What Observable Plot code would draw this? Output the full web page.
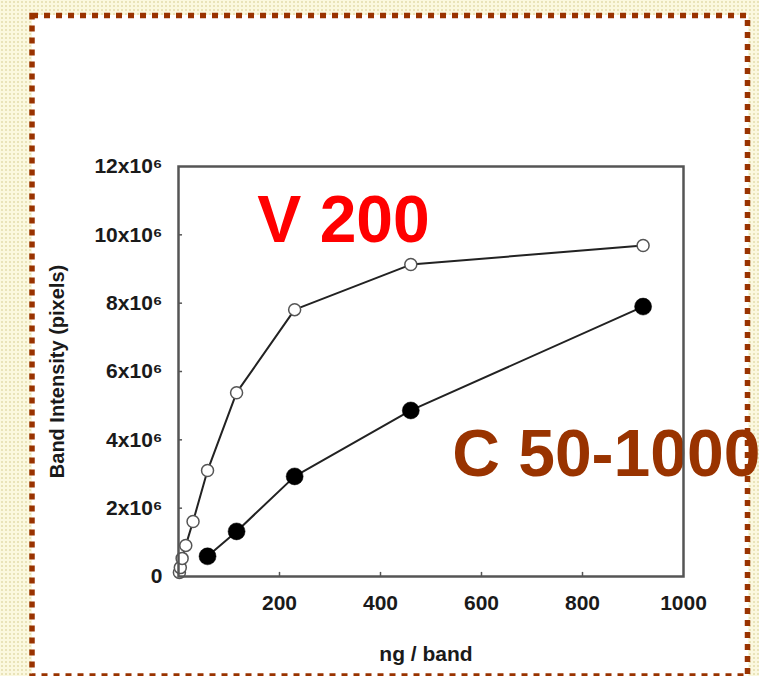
<!DOCTYPE html>
<html>
<head>
<meta charset="utf-8">
<script src="https://cdn.jsdelivr.net/npm/d3@7"></script>
<script src="https://cdn.jsdelivr.net/npm/@observablehq/plot@0.6"></script>
<style>
  html, body { margin: 0; padding: 0; }
  #page {
    position: relative; width: 759px; height: 676px; overflow: hidden;
    background-color: #fbf8df;
    background-image: radial-gradient(#e9e3b9 1px, transparent 1.3px);
    background-size: 4px 4px;
  }
  #inner { position: absolute; left: 32px; top: 15px; width: 716px; height: 670px; background: #fff; }
  #chart { position: absolute; left: 0; top: 0; }
  #border { position: absolute; left: 0; top: 0; pointer-events: none; }
</style>
</head>
<body>
<div id="page">
  <div id="inner"></div>
  <div id="chart"></div>
  <svg id="border" width="759" height="676">
    <rect x="32" y="15.5" width="715.5" height="660.5" fill="none" stroke="#993300" stroke-width="5.5" stroke-dasharray="6,6"></rect>
  </svg>
</div>
<script>
// Data (ng per band vs band intensity in pixels)
const ngV = [1.8, 3.6, 7.2, 14.4, 28.8, 57.5, 115, 230, 460, 920];
const intensityV200 = [0.12e6, 0.26e6, 0.53e6, 0.91e6, 1.61e6, 3.1e6, 5.38e6, 7.81e6, 9.13e6, 9.69e6];
const ngC = [57.5, 115, 230, 460, 920];
const intensityC50 = [0.59e6, 1.32e6, 2.93e6, 4.86e6, 7.9e6];

const yTicks = [0, 2e6, 4e6, 6e6, 8e6, 10e6, 12e6];
const yTickLabels = ["0", "2x10⁶", "4x10⁶", "6x10⁶", "8x10⁶", "10x10⁶", "12x10⁶"];
const xTicks = [200, 400, 600, 800, 1000];

const seriesNames = ["V 200", "C 50-1000"];
const seriesColors = ["#ff0000", "#993300"];
const labelX = [156, 542];
const labelY = [9.78e6, 2.93e6];

const vData = ngV.map((x, i) => ({x, y: intensityV200[i]}));
const cData = ngC.map((x, i) => ({x, y: intensityC50[i]}));
const labels = seriesNames.map((t, i) => ({text: t, x: labelX[i], y: labelY[i], fill: seriesColors[i]}));

const axisColor = "#555";

const chart = Plot.plot({
  width: 759,
  height: 676,
  marginLeft: 178,
  marginRight: 76,
  marginTop: 166,
  marginBottom: 100,
  x: {domain: [0, 1000]},
  y: {domain: [0, 12e6]},
  style: {
    fontFamily: "'Liberation Sans', Arial, sans-serif",
    fontSize: "21px",
    fontWeight: "bold",
    background: "transparent",
    color: "#1a1a1a"
  },
  marks: [
    Plot.text(labels, {x: "x", y: "y", text: "text", fill: d => d.fill, fontSize: 66, fontWeight: "bold", textAnchor: "start", lineAnchor: "bottom"}),
    Plot.line(vData, {x: "x", y: "y", stroke: "#222", strokeWidth: 2}),
    Plot.line(cData, {x: "x", y: "y", stroke: "#222", strokeWidth: 2}),
    Plot.dot(cData, {x: "x", y: "y", r: 8.5, fill: "#000", stroke: "#000", strokeWidth: 0.5}),
    Plot.dot(vData, {x: "x", y: "y", r: 6, fill: "#fff", stroke: "#555", strokeWidth: 1.5}),
    Plot.axisY({ticks: yTicks, tickFormat: d => yTickLabels[yTicks.indexOf(d)], tickSize: 0, tickPadding: 16, label: null, fill: "#1a1a1a", fontSize: 21}),
    Plot.axisX({ticks: xTicks, tickFormat: d => String(d), tickSize: 0, tickPadding: 19, label: null, fill: "#1a1a1a", fontSize: 21}),
    Plot.ruleY(yTicks.slice(1, -1), {x1: 0, x2: 8, stroke: axisColor, strokeWidth: 1.5}),
    Plot.ruleX(xTicks.slice(0, -1), {y1: 0, y2: 0.12e6, stroke: axisColor, strokeWidth: 1.5}),
    Plot.frame({stroke: axisColor, strokeWidth: 2.5}),
    Plot.text(["Band Intensity (pixels)"], {frameAnchor: "left", textAnchor: "middle", dx: -121, rotate: -90, fontSize: 20, fill: "#1a1a1a"}),
    Plot.text(["ng / band"], {frameAnchor: "bottom", textAnchor: "middle", dx: -5, dy: 84, lineAnchor: "bottom", fontSize: 21, fill: "#1a1a1a"})
  ]
});
document.getElementById("chart").appendChild(chart);
</script>
</body>
</html>
